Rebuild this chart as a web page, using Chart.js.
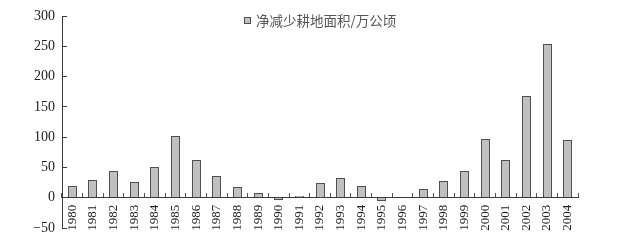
<!DOCTYPE html>
<html>
<head>
<meta charset="utf-8">
<script src="https://cdn.jsdelivr.net/npm/chart.js@4"></script>
<style>
  html, body { margin: 0; padding: 0; background: #fff; }
  #wrap { width: 630px; height: 243px; }
</style>
</head>
<body>
<div id="wrap"><canvas id="myChart"></canvas></div>
<script>
// data
const years = ["1980", "1981", "1982", "1983", "1984", "1985", "1986", "1987", "1988", "1989",
               "1990", "1991", "1992", "1993", "1994", "1995", "1996", "1997", "1998", "1999",
               "2000", "2001", "2002", "2003", "2004"];
const netLoss = [20, 29, 44, 26, 51, 102, 62, 36, 17, 8,
                 -4, 3, 24, 32, 20, -6, 0, 14, 27, 44,
                 97, 63, 168, 253, 96];
const seriesLabel = "净减少耕地面积/万公顷";
const yMin = -50, yMax = 300, yStep = 50;

const axisColor = '#3a3a3a';
const serif = "'Liberation Serif', 'DejaVu Serif', serif";

// snap the bars to whole pixels so every outline comes out crisp
const crispBars = {
    id: 'crispBars',
    afterDatasetsUpdate(chart) {
        chart.getDatasetMeta(0).data.forEach((bar) => {
            const w = Math.round(bar.width);
            const left = Math.round(bar.x - w / 2);
            bar.width = w;
            bar.x = left + w / 2;
            bar.y = Math.round(bar.y);
            bar.base = Math.round(bar.base);
        });
    }
};

// legend drawn inside the plot, centred near the top
const insideLegend = {
    id: 'insideLegend',
    afterDraw(chart) {
        const ctx = chart.ctx;
        const area = chart.chartArea;
        const ds = chart.data.datasets[0];
        ctx.save();
        ctx.font = "13.5px 'Noto Sans CJK SC', sans-serif";
        const tw = ctx.measureText(ds.label).width;
        const box = 7, gap = 5;
        const total = box + gap + tw;
        const x0 = Math.round((area.left + area.right) / 2 - total / 2);
        const yc = Math.round(area.top + 4);
        ctx.fillStyle = ds.backgroundColor;
        ctx.strokeStyle = ds.borderColor;
        ctx.lineWidth = 1;
        ctx.fillRect(x0, yc - 3, box, box);
        ctx.strokeRect(x0 + 0.5, yc - 2.5, box - 1, box - 1);
        ctx.fillStyle = '#555';
        ctx.textBaseline = 'middle';
        ctx.fillText(ds.label, x0 + box + gap, yc + 0.5);
        ctx.restore();
    }
};

const ctx = document.getElementById('myChart').getContext('2d');
new Chart(ctx, {
    type: 'bar',
    data: {
        labels: years,
        datasets: [{
            label: seriesLabel,
            data: netLoss,
            backgroundColor: '#c0c0c0',
            borderColor: '#505050',
            borderWidth: 1,
            barPercentage: 0.44,
            categoryPercentage: 1
        }]
    },
    options: {
        responsive: true,
        maintainAspectRatio: false,
        animation: false,
        layout: { padding: { left: 0, right: 52, top: 16, bottom: 15 } },
        plugins: {
            legend: { display: false },
            tooltip: { enabled: false }
        },
        scales: {
            x: {
                position: { y: 0 },
                grid: { drawOnChartArea: false, drawTicks: true, tickLength: -5, color: '#555' },
                border: { color: axisColor, width: 1 },
                ticks: {
                    autoSkip: false,
                    minRotation: 90,
                    maxRotation: 90,
                    padding: 12,
                    color: '#222',
                    font: { family: serif, size: 13 }
                }
            },
            y: {
                min: yMin,
                max: yMax,
                afterFit(scale) {
                    scale.width = 62;
                    // tick padding would otherwise push the plot inwards
                    scale.paddingTop = 0;
                    scale.paddingBottom = 0;
                },
                grid: { drawOnChartArea: false, drawTicks: true, tickLength: -5, color: axisColor },
                border: { color: axisColor, width: 1 },
                ticks: {
                    stepSize: yStep,
                    padding: 12,
                    color: '#222',
                    font: { family: serif, size: 14 },
                    callback: (v) => String(v).replace('-', '\u2212')
                }
            }
        }
    },
    plugins: [crispBars, insideLegend]
});
</script>
</body>
</html>
